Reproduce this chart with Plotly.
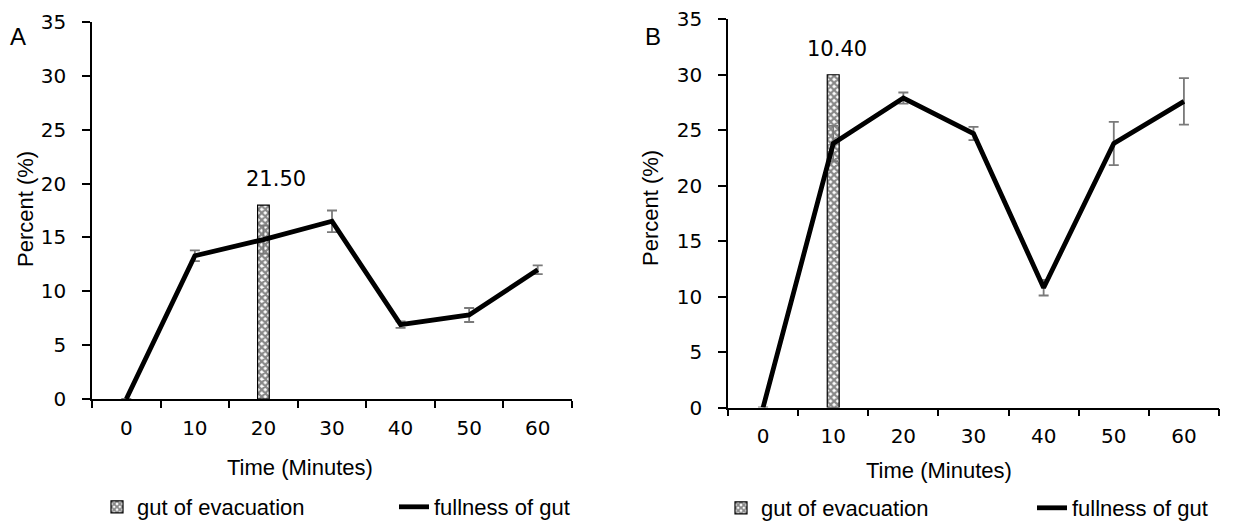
import plotly.graph_objects as go

# ---- data ----
time_labels = ["0", "10", "20", "30", "40", "50", "60"]

# Panel A
fullness_a = [0, 13.3, 14.8, 16.5, 6.9, 7.8, 12.0]
fullness_err_a = [None, 0.5, 1.3, 1.0, 0.3, 0.65, 0.4]
evac_time_a = ["20"]
evac_value_a = [18.0]
evac_label_a = "21.50"

# Panel B
fullness_b = [0, 23.8, 27.9, 24.7, 10.8, 23.8, 27.6]
fullness_err_b = [None, 1.6, 0.5, 0.6, 0.7, 1.95, 2.1]
evac_time_b = ["10"]
evac_value_b = [30.0]
evac_label_b = "10.40"

W, H = 1240, 524
TXT = "Liberation Sans"
NUM = "DejaVu Sans"

def px(x):
    return x / W

def py(y):
    return 1 - y / H

fig = go.Figure()

pattern = dict(shape="x", size=5, solidity=0.7, fgcolor="#111111", bgcolor="white", fillmode="overlay")

def add_panel(xa, ya, leg, times, vals, errs, et, ev):
    fig.add_trace(go.Bar(
        x=et, y=ev, xaxis=xa, yaxis=ya, width=0.17,
        name="gut of evacuation", legend=leg,
        marker=dict(color="white", pattern=pattern, line=dict(color="black", width=1.2)),
        hoverinfo="skip",
    ))
    fig.add_trace(go.Scatter(
        x=times, y=vals, xaxis=xa, yaxis=ya, mode="lines",
        name="fullness of gut", legend=leg,
        line=dict(color="black", width=4.8),
        error_y=dict(type="data", array=errs, visible=True, color="#7a7a7a", thickness=1.8, width=5),
    ))

add_panel("x", "y", "legend", time_labels, fullness_a, fullness_err_a, evac_time_a, evac_value_a)
add_panel("x2", "y2", "legend2", time_labels, fullness_b, fullness_err_b, evac_time_b, evac_value_b)

xcommon = dict(
    type="category", categoryorder="array", categoryarray=time_labels,
    range=[-0.5, 6.5], showline=True, linecolor="black", linewidth=1.5,
    ticks="outside", tickson="boundaries", ticklen=7, tickwidth=1.5, tickcolor="black",
    showgrid=False, zeroline=False, tickfont=dict(family=NUM, size=20, color="black"),
    ticklabelstandoff=10, fixedrange=True,
)
ycommon = dict(
    range=[0, 35], dtick=5, showline=True, linecolor="black", linewidth=1.5,
    ticks="outside", ticklen=8, tickwidth=1.5, tickcolor="black",
    showgrid=False, zeroline=False, tickfont=dict(family=NUM, size=20, color="black"),
    ticklabelstandoff=12, fixedrange=True,
)

fig.update_layout(
    width=W, height=H,
    margin=dict(l=0, r=0, t=0, b=0, autoexpand=False),
    paper_bgcolor="white", plot_bgcolor="white",
    barmode="overlay",
    xaxis=dict(xcommon, domain=[px(92), px(572)], anchor="y"),
    yaxis=dict(ycommon, domain=[py(399), py(22)], anchor="x"),
    xaxis2=dict(xcommon, domain=[px(728), px(1219)], anchor="y2"),
    yaxis2=dict(ycommon, domain=[py(407.5), py(19.3)], anchor="x2"),
    legend=dict(
        orientation="h", x=px(97), xanchor="left", y=py(507), yanchor="middle",
        entrywidth=252, entrywidthmode="pixels", itemwidth=30,
        font=dict(family=TXT, size=22, color="black"), bgcolor="rgba(0,0,0,0)",
    ),
    legend2=dict(
        orientation="h", x=px(721), xanchor="left", y=py(508), yanchor="middle",
        entrywidth=266, entrywidthmode="pixels", itemwidth=30,
        font=dict(family=TXT, size=22, color="black"), bgcolor="rgba(0,0,0,0)",
    ),
    showlegend=True,
)

ann = []
# data labels above evacuation bars (category axes: position by category index)
ann.append(dict(x=time_labels.index(evac_time_a[0]), y=evac_value_a[0], xref="x", yref="y",
                text=evac_label_a, showarrow=False, yanchor="bottom", yshift=12, xshift=13,
                font=dict(family=NUM, size=21, color="black")))
ann.append(dict(x=time_labels.index(evac_time_b[0]), y=evac_value_b[0], xref="x2", yref="y2",
                text=evac_label_b, showarrow=False, yanchor="bottom", yshift=12, xshift=4,
                font=dict(family=NUM, size=21, color="black")))
# axis titles
for xc, yc in [(300, 467), (939, 470)]:
    ann.append(dict(x=px(xc), y=py(yc), xref="paper", yref="paper", text="Time (Minutes)",
                    showarrow=False, xanchor="center", yanchor="middle",
                    font=dict(family=TXT, size=22, color="black")))
for xc, yc in [(25, 209), (650, 208)]:
    ann.append(dict(x=px(xc), y=py(yc), xref="paper", yref="paper", text="Percent (%)",
                    showarrow=False, xanchor="center", yanchor="middle", textangle=-90,
                    font=dict(family=TXT, size=22, color="black")))
# panel letters
for xc, yc, t in [(18, 37, "A"), (653, 36, "B")]:
    ann.append(dict(x=px(xc), y=py(yc), xref="paper", yref="paper", text=t,
                    showarrow=False, xanchor="center", yanchor="middle",
                    font=dict(family=TXT, size=24, color="black")))
fig.update_layout(annotations=ann)

fig.write_html("out.html")
